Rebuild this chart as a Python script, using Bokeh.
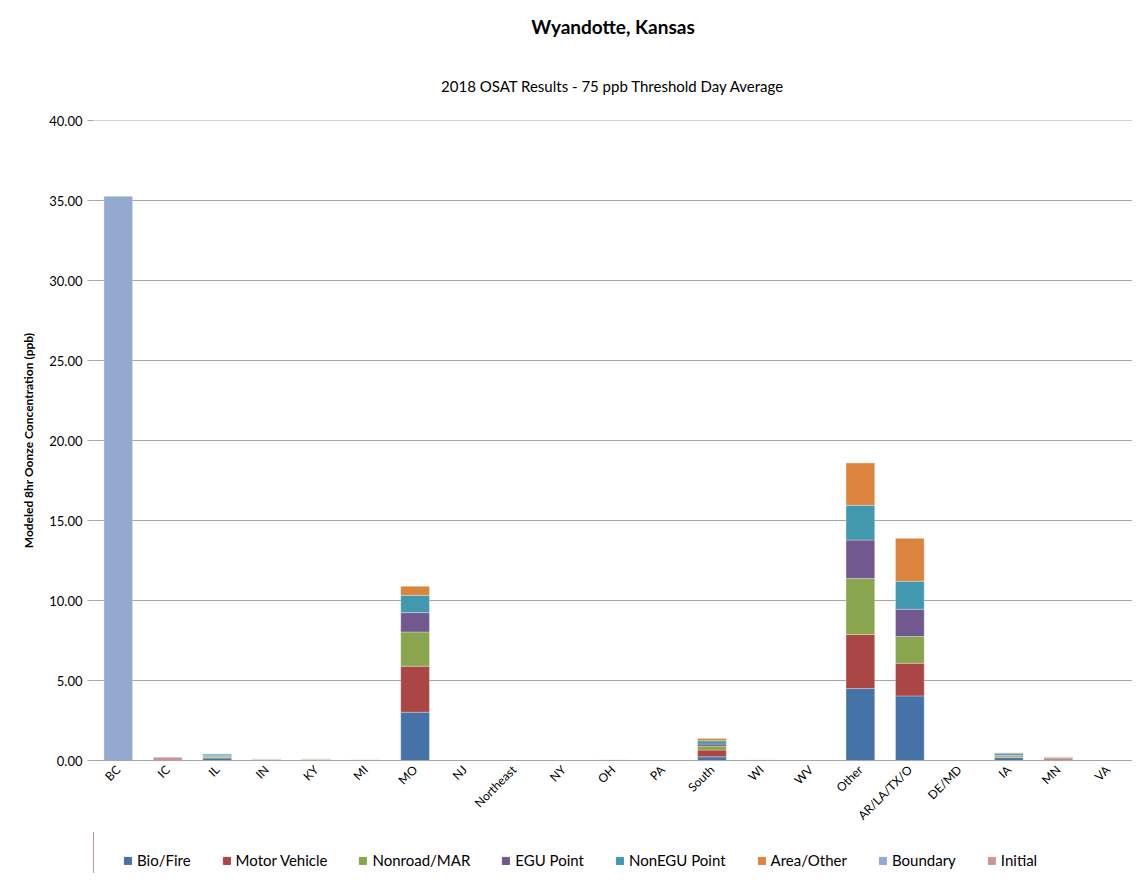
from bokeh.plotting import figure
from bokeh.models import Title, Legend, LegendItem, FactorRange, Range1d, NumeralTickFormatter, FixedTicker
from bokeh.layouts import column
from bokeh.embed import file_html
from bokeh.resources import INLINE
from math import pi

categories = ["BC", "IC", "IL", "IN", "KY", "MI", "MO", "NJ", "Northeast", "NY", "OH", "PA",
              "South", "WI", "WV", "Other", "AR/LA/TX/O", "DE/MD", "IA", "MN", "VA"]

bio_fire =      [0, 0, 0.15, 0.02, 0.02, 0.01, 3.02, 0, 0, 0, 0.01, 0, 0.23, 0.01, 0.01, 4.50, 4.04, 0, 0.18, 0.04, 0.005]
motor_vehicle = [0, 0, 0.04, 0.03, 0.02, 0.02, 2.88, 0, 0, 0, 0.01, 0, 0.42, 0.01, 0.01, 3.38, 2.04, 0, 0.04, 0.10, 0.005]
nonroad_mar =   [0, 0, 0.08, 0.03, 0.02, 0.02, 2.14, 0, 0, 0, 0.01, 0, 0.25, 0.01, 0.00, 3.50, 1.67, 0, 0.08, 0.06, 0.005]
egu_point =     [0, 0, 0.04, 0.01, 0.01, 0.01, 1.21, 0, 0, 0, 0.00, 0, 0.13, 0.01, 0.00, 2.41, 1.71, 0, 0.04, 0.02, 0.0]
nonegu_point =  [0, 0, 0.10, 0.02, 0.01, 0.01, 1.08, 0, 0, 0, 0.01, 0, 0.20, 0.02, 0.00, 2.17, 1.75, 0, 0.12, 0.01, 0.0]
area_other =    [0, 0, 0.02, 0.02, 0.04, 0.01, 0.59, 0, 0, 0, 0.00, 0, 0.17, 0.01, 0.01, 2.67, 2.71, 0, 0.04, 0.02, 0.005]
boundary =      [35.30] + [0] * 20
initial =       [0, 0.20] + [0] * 19

series_names = ["Bio/Fire", "Motor Vehicle", "Nonroad/MAR", "EGU Point", "NonEGU Point",
                "Area/Other", "Boundary", "Initial"]
series_keys = ["bio", "mv", "nr", "egu", "negu", "area", "bnd", "ini"]
series_vals = [bio_fire, motor_vehicle, nonroad_mar, egu_point, nonegu_point, area_other, boundary, initial]
colors = ["#4572A7", "#AA4643", "#89A54E", "#71588F", "#4198AF", "#DB843D", "#93A9CF", "#D19392"]

y_ticks = [0, 5, 10, 15, 20, 25, 30, 35, 40]

FONT = "Lato"

data = {"cat": categories}
for k, v in zip(series_keys, series_vals):
    data[k] = v

p = figure(x_range=FactorRange(*categories, range_padding=0), y_range=Range1d(0, 40.03),
           frame_width=1039, frame_height=640, output_backend="svg", toolbar_location=None,
           min_border_left=93, min_border_right=0, min_border_top=100, min_border_bottom=72)

p.title.text = "Wyandotte, Kansas"
p.title.align = "center"
p.title.text_font = FONT
p.title.text_font_size = "19px"
p.title.text_font_style = "bold"
p.title.text_color = "#000000"
p.title.standoff = 24
p.add_layout(Title(text="2018 OSAT Results - 75 ppb Threshold Day Average", align="center",
                   text_font=FONT, text_font_size="15px", text_font_style="normal",
                   text_color="#000000", standoff=51), "above")

renderers = p.vbar_stack(series_keys, x="cat", width=0.58, source=data, color=colors,
                         line_color="white", line_alpha=0.5, line_width=0.6)

p.xgrid.grid_line_color = None
p.ygrid.grid_line_color = "#a6a6a6"
p.ygrid.ticker = FixedTicker(ticks=y_ticks)
p.outline_line_color = None

p.yaxis.ticker = FixedTicker(ticks=y_ticks)
p.yaxis.formatter = NumeralTickFormatter(format="0.00")
p.yaxis.axis_line_color = None
p.yaxis.major_tick_line_color = "#a6a6a6"
p.yaxis.major_tick_out = 6
p.yaxis.major_tick_in = 0
p.yaxis.minor_tick_line_color = None
p.yaxis.major_label_text_font = FONT
p.yaxis.major_label_text_font_size = "13px"
p.yaxis.major_label_text_color = "#000000"
p.yaxis.axis_label = "Modeled 8hr Oonze Concentration (ppb)"
p.yaxis.axis_label_text_font = FONT
p.yaxis.axis_label_text_font_size = "12px"
p.yaxis.axis_label_text_font_style = "bold"
p.yaxis.axis_label_text_color = "#000000"
p.yaxis.axis_label_standoff = 10

p.xaxis.axis_line_color = "#a6a6a6"
p.xaxis.major_tick_line_color = None
p.xaxis.minor_tick_line_color = None
p.xaxis.major_label_orientation = pi / 4
p.xaxis.major_label_text_font = FONT
p.xaxis.major_label_text_font_size = "12px"
p.xaxis.major_label_text_color = "#000000"
p.xaxis.major_label_standoff = 7
p.xaxis.major_tick_out = 0

# legend in a strip below the chart (its frame is aligned with the chart's frame)
leg = figure(width=1132, height=41, output_backend="svg", toolbar_location=None,
             x_axis_type=None, y_axis_type=None, min_border=0,
             x_range=Range1d(0, 1), y_range=Range1d(0, 1))
leg.outline_line_color = None
leg.xgrid.grid_line_color = None
leg.ygrid.grid_line_color = None
dummies = [leg.vbar(x=[-10], top=[1], width=0.1, color=c) for c in colors]
items = [LegendItem(label=n, renderers=[r]) for n, r in zip(series_names, dummies)]
legend = Legend(items=items, orientation="horizontal", location=(30, 4),
                label_text_font=FONT, label_text_font_size="15px", label_text_color="#000000",
                glyph_width=9, glyph_height=9, label_standoff=5, spacing=31,
                border_line_color=None, background_fill_alpha=0, margin=0, padding=2)
leg.add_layout(legend)

layout = column(p, leg, spacing=0)
open("out.html", "w").write(file_html(layout, INLINE))
